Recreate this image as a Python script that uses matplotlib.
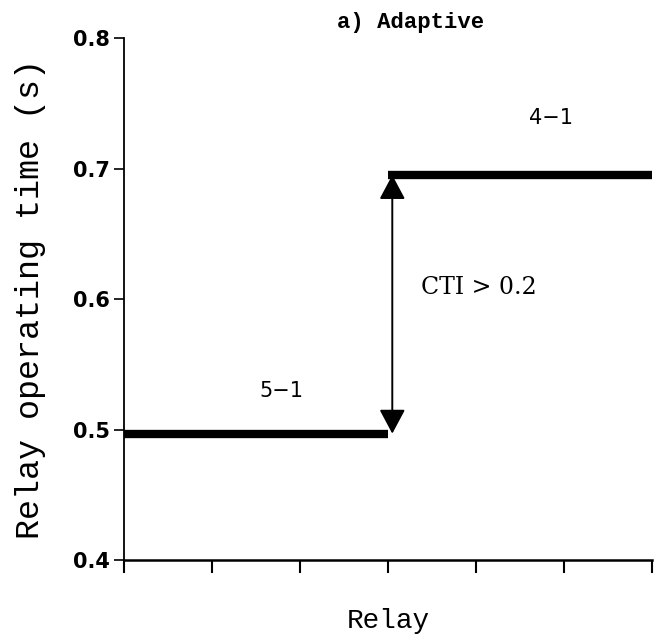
import matplotlib
matplotlib.use("Agg")
import matplotlib.pyplot as plt

# relay operating times on either side of the step
relay_x = [0, 3, 6]
time_51 = 0.497
time_41 = 0.695
y_ticks = [0.4, 0.5, 0.6, 0.7, 0.8]
x_ticks = [0, 1, 2, 3, 4, 5, 6]

fig = plt.figure(figsize=(6.58, 6.44), dpi=100)
ax = fig.add_axes([0.188, 0.130, 0.803, 0.811])

ax.hlines(time_51, relay_x[0], relay_x[1], color="black", lw=6)
ax.hlines(time_41, relay_x[1], relay_x[2], color="black", lw=6)

# coordination time interval arrow
ax.annotate("", xy=(relay_x[1] + 0.05, time_41), xytext=(relay_x[1] + 0.05, time_51),
            arrowprops=dict(arrowstyle="<|-|>,head_length=1.5,head_width=0.8",
                            color="black", lw=1.4, shrinkA=0, shrinkB=0))

ax.text(1.79, 0.530, "5\u22121", fontsize=15, ha="center", va="center", family="DejaVu Sans")
ax.text(4.85, 0.739, "4\u22121", fontsize=15, ha="center", va="center", family="DejaVu Sans")
ax.text(4.03, 0.609, "CTI > 0.2", fontsize=17, ha="center", va="center", family="DejaVu Serif")
ax.text(3.26, 0.812, "a) Adaptive", fontsize=16, ha="center", va="center",
        family="Liberation Mono", fontweight="bold")

ax.set_xlim(0, 6)
ax.set_ylim(0.4, 0.8)
ax.set_xticks(x_ticks)
ax.set_xticklabels([])
ax.set_yticks(y_ticks)
ax.set_yticklabels([f"{v:.1f}" for v in y_ticks], fontsize=15, fontweight="bold",
                   family="DejaVu Sans")
ax.tick_params(axis="y", direction="out", length=7, width=1.2, pad=3)
ax.tick_params(axis="x", direction="out", length=9, width=1.5)

for side in ["top", "right"]:
    ax.spines[side].set_visible(False)
ax.spines["left"].set_linewidth(1.3)
ax.spines["bottom"].set_linewidth(1.8)

ax.set_ylabel("Relay operating time (s)", fontsize=24, family="Liberation Mono", labelpad=19)
ax.set_xlabel("Relay", fontsize=20, family="Liberation Mono", labelpad=22)

fig.savefig("out.png", dpi=100)
